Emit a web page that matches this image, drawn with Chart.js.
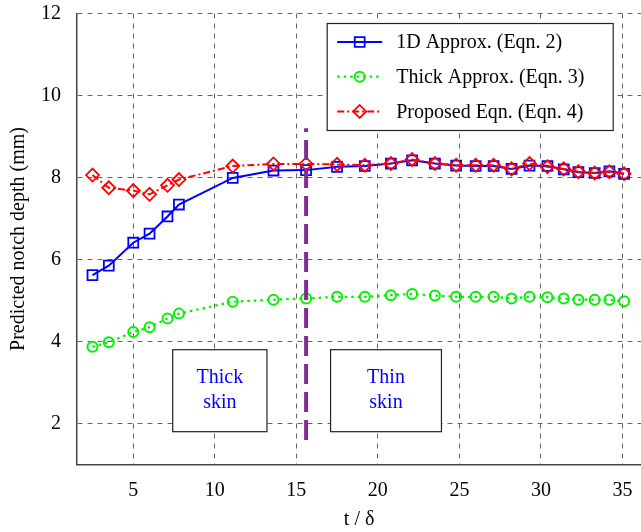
<!DOCTYPE html>
<html>
<head>
<meta charset="utf-8">
<script src="https://cdn.jsdelivr.net/npm/chart.js@4/dist/chart.umd.min.js"></script>
<style>
  html, body { margin: 0; padding: 0; background: #fff; overflow: hidden; }
  canvas { display: block; }
</style>
</head>
<body>
<canvas id="chart" width="650" height="532"></canvas>
<script>
// values
const tOverDelta = [2.5, 3.5, 5.0, 6.0, 7.1, 7.8, 11.1, 13.6, 15.6, 17.5, 19.2, 20.8, 22.1, 23.5, 24.8, 26.0, 27.1, 28.2, 29.3, 30.4, 31.4, 32.3, 33.3, 34.2, 35.1];
const approx1D = [5.62, 5.85, 6.41, 6.63, 7.05, 7.34, 7.99, 8.17, 8.18, 8.26, 8.28, 8.34, 8.42, 8.34, 8.29, 8.28, 8.28, 8.21, 8.29, 8.28, 8.20, 8.13, 8.11, 8.15, 8.09];
const thickApprox = [3.87, 3.98, 4.23, 4.35, 4.56, 4.68, 4.97, 5.02, 5.05, 5.09, 5.09, 5.13, 5.16, 5.12, 5.09, 5.09, 5.09, 5.05, 5.09, 5.08, 5.05, 5.02, 5.02, 5.02, 4.98];
const proposed = [8.06, 7.75, 7.68, 7.59, 7.81, 7.95, 8.28, 8.33, 8.33, 8.32, 8.30, 8.34, 8.44, 8.34, 8.30, 8.30, 8.30, 8.21, 8.34, 8.26, 8.21, 8.14, 8.11, 8.14, 8.09];
const seriesNames = ['1D Approx. (Eqn. 2)', 'Thick Approx. (Eqn. 3)', 'Proposed Eqn. (Eqn. 4)'];
const xTicks = [5, 10, 15, 20, 25, 30, 35];
const yTicks = [2, 4, 6, 8, 10, 12];
const boundaryX = [15.6, 15.6];
const boundaryY = [1.6, 9.2];
const regionLabels = [['Thick', 'skin'], ['Thin', 'skin']];

const SERIF = '"Liberation Serif", "Times New Roman", serif';
const toPoints = (xs, ys) => xs.map((x, i) => ({ x, y: ys[i] }));

// text boxes marking the two regimes, placed in data units
const regionBoxes = {
  id: 'regionBoxes',
  afterDatasetsDraw(chart, args, opts) {
    const { ctx, scales: { x, y } } = chart;
    ctx.save();
    opts.boxes.forEach((b, i) => {
      const left = x.getPixelForValue(b.x[0]);
      const right = x.getPixelForValue(b.x[1]);
      const top = y.getPixelForValue(b.y[1]);
      const bottom = y.getPixelForValue(b.y[0]);
      ctx.fillStyle = '#fff';
      ctx.fillRect(left, top, right - left, bottom - top);
      ctx.strokeStyle = '#222';
      ctx.lineWidth = 1.2;
      ctx.setLineDash([]);
      ctx.strokeRect(left, top, right - left, bottom - top);
      ctx.fillStyle = '#0000ff';
      ctx.font = '20px ' + SERIF;
      ctx.textAlign = 'center';
      ctx.textBaseline = 'middle';
      const cx = (left + right) / 2;
      const cy = (top + bottom) / 2;
      regionLabels[i].forEach((line, j) => ctx.fillText(line, cx, cy + (j - 0.5) * 25));
    });
    ctx.restore();
  }
};

// boxed legend in the upper right of the axes
const boxLegend = {
  id: 'boxLegend',
  afterDatasetsDraw(chart) {
    const { ctx, chartArea } = chart;
    const drawPoint = Chart.helpers && Chart.helpers.drawPoint;
    const right = chartArea.right - 28;
    const left = right - 286;
    const top = chartArea.top + 10;
    const height = 107;
    ctx.save();
    ctx.fillStyle = '#fff';
    ctx.fillRect(left, top, right - left, height);
    ctx.strokeStyle = '#222';
    ctx.lineWidth = 1.2;
    ctx.setLineDash([]);
    ctx.strokeRect(left, top, right - left, height);
    chart.data.datasets.slice(0, 3).forEach((ds, i) => {
      const yc = top + 18.5 + i * 34.7;
      const x0 = left + 10, x1 = left + 55;
      ctx.strokeStyle = ds.borderColor;
      ctx.lineWidth = ds.borderWidth;
      ctx.setLineDash(ds.borderDash || []);
      ctx.beginPath();
      ctx.moveTo(x0, yc);
      ctx.lineTo(x1, yc);
      ctx.stroke();
      ctx.setLineDash([]);
      if (drawPoint) {
        ctx.fillStyle = ds.pointBackgroundColor;
        ctx.strokeStyle = ds.pointBorderColor;
        ctx.lineWidth = ds.pointBorderWidth;
        drawPoint(ctx, {
          pointStyle: ds.pointStyle,
          radius: ds.pointRadius,
          borderWidth: ds.pointBorderWidth,
          rotation: 0
        }, (x0 + x1) / 2, yc);
      }
      ctx.fillStyle = '#000';
      ctx.font = '20px ' + SERIF;
      ctx.textAlign = 'left';
      ctx.textBaseline = 'middle';
      ctx.fillText(ds.label, left + 69, yc + 1);
    });
    ctx.restore();
  }
};

new Chart(document.getElementById('chart'), {
  type: 'line',
  data: {
    datasets: [
      {
        label: seriesNames[0],
        data: toPoints(tOverDelta, approx1D),
        borderColor: '#0000ff',
        borderWidth: 2,
        pointStyle: 'rect',
        pointRadius: 7,
        pointBorderWidth: 1.8,
        pointBorderColor: '#0000ff',
        pointBackgroundColor: 'rgba(0,0,0,0)',
        order: 2
      },
      {
        label: seriesNames[1],
        data: toPoints(tOverDelta, thickApprox),
        borderColor: '#00f000',
        borderWidth: 2.2,
        borderDash: [2.5, 4],
        pointStyle: 'circle',
        pointRadius: 5,
        pointBorderWidth: 2,
        pointBorderColor: '#00f000',
        pointBackgroundColor: 'rgba(0,0,0,0)',
        order: 3
      },
      {
        label: seriesNames[2],
        data: toPoints(tOverDelta, proposed),
        borderColor: '#ff0000',
        borderWidth: 2,
        borderDash: [7, 3, 2, 3],
        pointStyle: 'rectRot',
        pointRadius: 6.5,
        pointBorderWidth: 1.8,
        pointBorderColor: '#ff0000',
        pointBackgroundColor: 'rgba(0,0,0,0)',
        order: 1
      },
      {
        label: 'boundary',
        data: toPoints(boundaryX, boundaryY),
        borderColor: '#7e2f8e',
        borderWidth: 4,
        borderDash: [20, 8],
        pointRadius: 0,
        order: 0
      }
    ]
  },
  options: {
    responsive: false,
    animation: false,
    layout: { padding: { top: 13.5, right: 0, left: 0, bottom: 0 } },
    elements: { line: { tension: 0 } },
    plugins: {
      legend: { display: false },
      tooltip: { enabled: false },
      regionBoxes: {
        boxes: [
          { x: [7.42, 13.2], y: [1.8, 3.8] },
          { x: [17.1, 23.9], y: [1.8, 3.8] }
        ]
      }
    },
    scales: {
      x: {
        type: 'linear',
        min: 1.55,
        max: 36.15,
        afterBuildTicks: (s) => { s.ticks = xTicks.map((v) => ({ value: v })); },
        afterFit: (s) => { s.height = 67.5; s.paddingLeft = 0; s.paddingRight = 0; },
        grid: { color: '#666', lineWidth: 1, drawTicks: false },
        border: { display: true, color: '#444', width: 1.5, dash: [5, 5] },
        ticks: { color: '#000', padding: 14, font: { family: SERIF, size: 20 } },
        title: {
          display: true,
          text: 't / δ',
          color: '#000',
          font: { family: SERIF, size: 20 },
          padding: { top: 0, bottom: 0 }
        }
      },
      y: {
        min: 1,
        max: 12,
        afterBuildTicks: (s) => { s.ticks = yTicks.map((v) => ({ value: v })); },
        afterFit: (s) => { s.width = 77; s.paddingTop = 0; s.paddingBottom = 0; },
        grid: { color: '#666', lineWidth: 1, drawTicks: false },
        border: { display: true, color: '#444', width: 1.5, dash: [5, 5] },
        ticks: { color: '#000', padding: 16, font: { family: SERIF, size: 20 } },
        title: {
          display: true,
          text: 'Predicted notch depth (mm)',
          color: '#000',
          font: { family: SERIF, size: 20 },
          padding: { top: 7, bottom: 0 }
        }
      }
    }
  },
  plugins: [regionBoxes, boxLegend]
});
</script>
</body>
</html>
